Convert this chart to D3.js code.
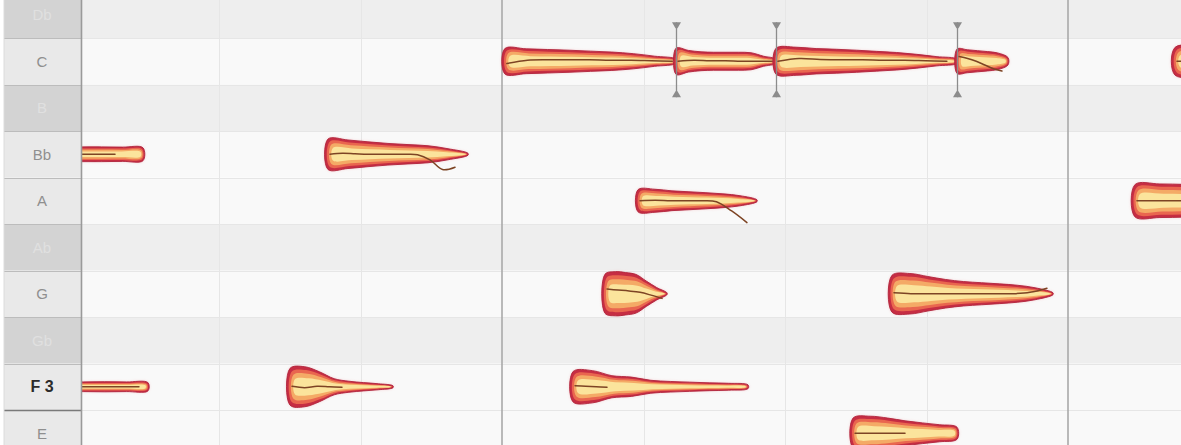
<!DOCTYPE html>
<html><head><meta charset="utf-8">
<script src="https://cdn.jsdelivr.net/npm/d3@7"></script>
<style>html,body{margin:0;padding:0;background:#fff;overflow:hidden}</style>
</head><body><svg id="c" width="1181" height="445"></svg>
<script>
// ---------- data ----------
const rowPitches = [52, 53, 54, 55, 56, 57, 58, 59, 60, 61];
const rowLabels  = ["E", "F 3", "Gb", "G", "Ab", "A", "Bb", "B", "C", "Db"];
const rowInScale = [1, 1, 0, 1, 0, 1, 1, 0, 1, 0];
const barBeats   = [0, 4, 8];
const beatTicks  = [1, 2, 3, 5, 6, 7];

const notePitch = [58, 53, 53, 58, 60, 53, 55, 57, 60, 60, 52, 55, 60, 57, 60];
const noteStart = [0.735, 0.735, 2.502, 2.770, 4.020, 4.502, 4.728, 4.961, 5.230, 5.936, 6.481, 6.756, 7.216, 8.473, 8.756];
const noteEnd   = [1.463, 1.498, 3.230, 3.760, 5.230, 5.739, 5.166, 5.802, 5.936, 7.216, 7.216, 7.894, 7.576, 9.357, 9.500];
const lineEnd   = [1.251, 1.420, 2.855, 3.654, 5.190, 4.728, 5.117, 5.717, 5.900, 7.130, 6.834, 7.837, 7.519, 9.300, 9.400];
const noteAmp = [
  [0.30, 0.32, 0.32, 0.32, 0.31, 0.28],
  [0.18, 0.20, 0.21, 0.22, 0.21, 0.18],
  [0.80, 0.87, 0.65, 0.35, 0.24, 0.18, 0.13, 0.04],
  [0.66, 0.62, 0.54, 0.47, 0.42, 0.37, 0.24, 0.04],
  [0.55, 0.54, 0.51, 0.48, 0.44, 0.40, 0.33, 0.22, 0.09],
  [0.66, 0.70, 0.48, 0.42, 0.28, 0.23, 0.20, 0.17, 0.15, 0.08],
  [0.85, 0.96, 0.92, 0.84, 0.55, 0.27, 0.04],
  [0.48, 0.50, 0.43, 0.39, 0.35, 0.30, 0.22, 0.04],
  [0.57, 0.47, 0.41, 0.39, 0.39, 0.39, 0.37, 0.22, 0.09],
  [0.56, 0.61, 0.55, 0.52, 0.48, 0.43, 0.38, 0.30, 0.20, 0.09],
  [0.66, 0.74, 0.66, 0.54, 0.45, 0.37, 0.26],
  [0.80, 0.88, 0.75, 0.62, 0.53, 0.48, 0.43, 0.37, 0.26, 0.04],
  [0.53, 0.50, 0.46, 0.42, 0.36, 0.16],
  [0.70, 0.73, 0.71, 0.69, 0.68, 0.68],
  [0.60, 0.61, 0.59, 0.58]
];
const lineCents = [
  [0, 0, 0],
  [0, 0, 0, 0],
  [1, -2, 1, 0, -1],
  [0, 2, 1, 0, 0, 0, 0, -1, -12, -33, -28],
  [-5, 2, 3, 3, 3, 2, 2, 1, 0],
  [2, 1, 0, -1],
  [10, 8, 6, 3, -3, -10],
  [0, 1, 0, 0, 0, -2, -22, -47],
  [0, 2, 1, 1, 0, 0, 0],
  [0, 6, 4, 3, 3, 2, 2, 1, 0],
  [0, 0, 0, 0],
  [2, 0, 0, 0, 0, 0, 0, 0, 3, 12],
  [10, 6, 0, -8, -16, -21],
  [0, 0, 0, 0],
  [0, 0, 0]
];

// ---------- scales ----------
const W = 1181, H = 445, gridLeft = 82, keyLeft = 4;
const x = d3.scaleLinear().domain([0, 8]).range([-64, 1068]);
const y = d3.scaleLinear().domain([53, 60]).range([386.75, 61.25]);
const semi = y(53) - y(54);
const amp = d3.scaleLinear().domain([0, 1]).range([0, 23]);

const svg = d3.select("#c");
const defs = svg.append("defs");
defs.append("clipPath").attr("id", "gridClip").append("rect")
  .attr("x", gridLeft).attr("y", 0).attr("width", W - gridLeft).attr("height", H);
defs.append("filter").attr("id", "glow").attr("x", "-10%").attr("y", "-50%").attr("width", "120%").attr("height", "200%")
  .append("feGaussianBlur").attr("stdDeviation", 1.8);

svg.append("rect").attr("width", W).attr("height", H).attr("fill", "#ffffff");

// ---------- grid ----------
const grid = svg.append("g").attr("clip-path", "url(#gridClip)");
grid.selectAll("rect.row").data(rowPitches).join("rect").attr("class", "row")
  .attr("x", gridLeft).attr("width", W - gridLeft)
  .attr("y", p => y(p) - semi / 2).attr("height", semi)
  .attr("fill", (p, i) => rowInScale[i] ? "#f9f9f9" : "#eeeeee");
grid.selectAll("line.hl").data(rowPitches).join("line").attr("class", "hl")
  .attr("x1", gridLeft).attr("x2", W)
  .attr("y1", p => Math.round(y(p) + semi / 2) + 0.5).attr("y2", p => Math.round(y(p) + semi / 2) + 0.5)
  .attr("stroke", "#e6e6e6").attr("stroke-width", 1);
grid.selectAll("line.beat").data(beatTicks).join("line").attr("class", "beat")
  .attr("x1", b => Math.round(x(b)) + 0.5).attr("x2", b => Math.round(x(b)) + 0.5)
  .attr("y1", 0).attr("y2", H).attr("stroke", "#e6e6e6").attr("stroke-width", 1);
grid.selectAll("line.bar").data(barBeats).join("line").attr("class", "bar")
  .attr("x1", b => x(b)).attr("x2", b => x(b))
  .attr("y1", 0).attr("y2", H).attr("stroke", "#a9a9a9").attr("stroke-width", 1.6);

// ---------- notes ----------
const layers = [
  {frac: 1.00, shrink: 0,   inset: 0,   fill: "#c62d43"},
  {frac: 0.86, shrink: 0.5, inset: 1.8, fill: "#e9664f"},
  {frac: 0.68, shrink: 0.6, inset: 3.4, fill: "#f4aa66"},
  {frac: 0.44, shrink: 0.4, inset: 5.0, fill: "#fbe49c"}
];
const closed = d3.line().curve(d3.curveCatmullRomClosed.alpha(0.5));
function blob(i, L) {
  const a = noteAmp[i], n = a.length, cy = y(notePitch[i]);
  const x0 = x(noteStart[i]), x1 = x(noteEnd[i]);
  const xs = x0 + L.inset, xe = x1 - L.inset * 0.5;
  if (xe <= xs) return null;
  const up = [], lo = [];
  a.forEach((v, k) => {
    const px = xs + (xe - xs) * k / (n - 1);
    const h = Math.max(0.25, amp(v) * L.frac - L.shrink);
    up.push([px, cy - h]); lo.push([px, cy + h]);
  });
  return closed(up.concat(lo.reverse()));
}
const pitchLine = d3.line().curve(d3.curveCatmullRom.alpha(0.5));
const notes = grid.append("g");
notePitch.forEach((p, i) => {
  const g = notes.append("g");
  g.append("path").attr("d", blob(i, layers[0])).attr("fill", "#ec7d88").attr("opacity", 0.4).attr("filter", "url(#glow)");
  layers.forEach((L, li) => {
    const d = blob(i, L);
    if (!d) return;
    const path = g.append("path").attr("d", d).attr("fill", L.fill);
    if (li === 0) path.attr("stroke", "#b0253c").attr("stroke-width", 0.9).attr("stroke-linejoin", "round");
  });
  const c = lineCents[i], m = c.length, cy = y(p);
  const pts = c.map((v, k) => [x(noteStart[i] + (lineEnd[i] - noteStart[i]) * k / (m - 1)) + 2, cy - v / 100 * semi]);
  g.append("path").attr("d", pitchLine(pts)).attr("fill", "none")
    .attr("stroke", "#7d4424").attr("stroke-width", 1.5).attr("stroke-linecap", "round");
});

// ---------- note separators ----------
const seps = [];
notePitch.forEach((p, i) => {
  notePitch.forEach((q, j) => {
    if (i !== j && p === q && Math.abs(noteEnd[j] - noteStart[i]) < 1e-6) seps.push(i);
  });
});
const sepG = grid.append("g");
seps.forEach(i => {
  const sx = Math.round(x(noteStart[i])) + 0.5, cy = y(notePitch[i]);
  const t = cy - 39, b = cy + 36;
  sepG.append("line").attr("x1", sx).attr("x2", sx).attr("y1", t).attr("y2", b)
    .attr("stroke", "#8c8c8c").attr("stroke-width", 1.3);
  sepG.append("path").attr("d", `M${sx - 4.5},${t} L${sx + 4.5},${t} L${sx + 1},${t + 6} L${sx - 1},${t + 6} Z`).attr("fill", "#8c8c8c");
  sepG.append("path").attr("d", `M${sx - 4.5},${b} L${sx + 4.5},${b} L${sx + 1},${b - 6} L${sx - 1},${b - 6} Z`).attr("fill", "#8c8c8c");
});

// ---------- keyboard ----------
const kb = svg.append("g");
kb.selectAll("rect.key").data(rowPitches).join("rect").attr("class", "key")
  .attr("x", keyLeft).attr("width", gridLeft - keyLeft - 1)
  .attr("y", p => y(p) - semi / 2).attr("height", semi)
  .attr("fill", (p, i) => rowInScale[i] ? "#e9e9e9" : "#d3d3d3");
kb.selectAll("line.kl").data(rowPitches).join("line").attr("class", "kl")
  .attr("x1", keyLeft).attr("x2", gridLeft)
  .attr("y1", p => Math.round(y(p) + semi / 2) + 0.5).attr("y2", p => Math.round(y(p) + semi / 2) + 0.5)
  .attr("stroke", p => p === 53 ? "#7a7a7a" : "#bcbcbc").attr("stroke-width", p => p === 53 ? 1.6 : 1);
kb.append("line").attr("x1", gridLeft - 0.5).attr("x2", gridLeft - 0.5).attr("y1", 0).attr("y2", H)
  .attr("stroke", "#9a9a9a").attr("stroke-width", 1.6);
kb.append("line").attr("x1", keyLeft).attr("x2", keyLeft).attr("y1", 0).attr("y2", H)
  .attr("stroke", "#dcdcdc").attr("stroke-width", 1);
kb.selectAll("text.kt").data(rowPitches).join("text").attr("class", "kt")
  .attr("x", 42).attr("y", p => y(p) + 5.5)
  .attr("text-anchor", "middle")
  .attr("font-family", "'Liberation Sans', Arial, sans-serif")
  .attr("font-size", (p, i) => rowLabels[i] === "F 3" ? 16 : 15)
  .attr("font-weight", (p, i) => rowLabels[i] === "F 3" ? "bold" : "normal")
  .attr("fill", (p, i) => rowLabels[i] === "F 3" ? "#2b2b2b" : (rowInScale[i] ? "#8f8f8f" : "#e0e0e0"))
  .text((p, i) => rowLabels[i]);
</script></body></html>
